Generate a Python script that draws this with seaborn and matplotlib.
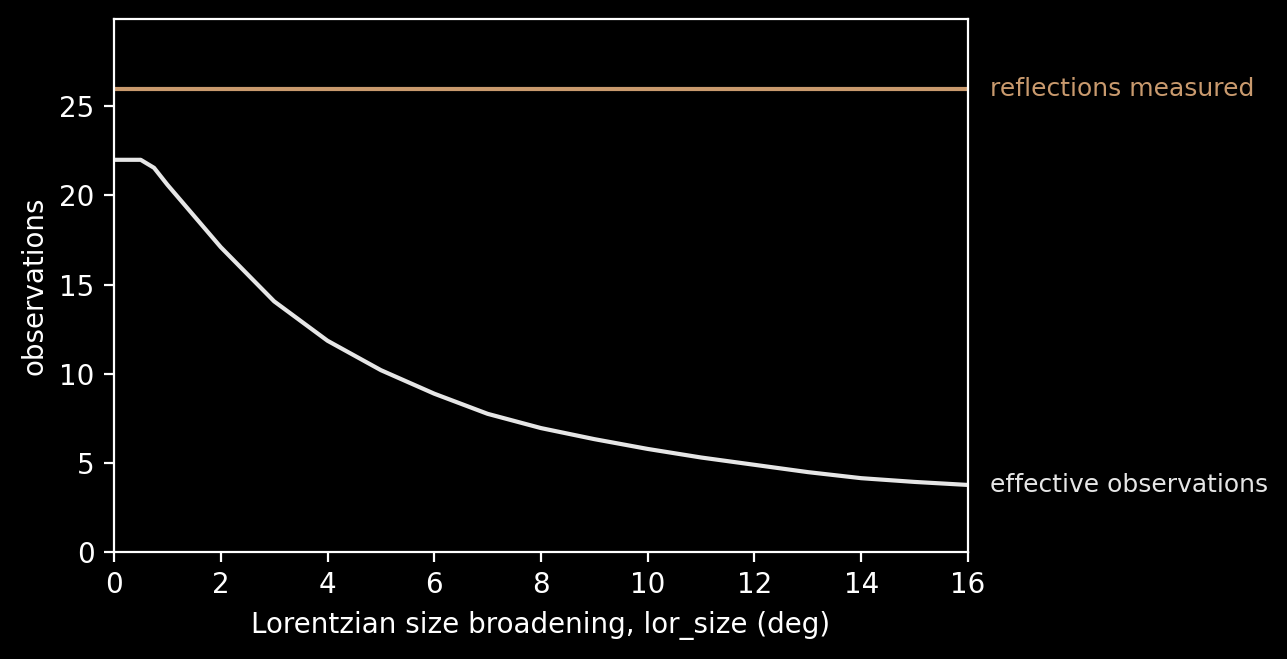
import numpy as np
import pandas as pd
import matplotlib
matplotlib.use("Agg")
import matplotlib.pyplot as plt
import seaborn as sns

# valores
lor_size = [0, 0.25, 0.5, 0.75, 1, 1.5, 2, 3, 4, 5, 6, 7, 8, 9, 10, 11, 12, 13, 14, 15, 16]
eff_obs = [22.0, 22.0, 22.0, 21.55, 20.6, 18.85, 17.1, 14.06, 11.85, 10.2, 8.88,
           7.75, 6.95, 6.33, 5.78, 5.3, 4.89, 4.48, 4.14, 3.93, 3.76]
n_measured = 26

tan = "#c99a6e"
grey = "#e6e6e6"

sns.set_theme(style="ticks", rc={
    "figure.facecolor": "black", "axes.facecolor": "black",
    "axes.edgecolor": "white", "axes.labelcolor": "white",
    "xtick.color": "white", "ytick.color": "white", "text.color": "white",
    "axes.linewidth": 0.8, "xtick.major.width": 0.8, "ytick.major.width": 0.8,
    "xtick.major.size": 3.5, "ytick.major.size": 3.5,
    "font.size": 10, "axes.labelsize": 10, "xtick.labelsize": 10, "ytick.labelsize": 10,
})
plt.rcParams["font.family"] = ["DejaVu Sans"]

df = pd.DataFrame({"lor_size": lor_size, "eff_obs": eff_obs})

fig, ax = plt.subplots(figsize=(6.435, 3.295), dpi=200)
fig.subplots_adjust(left=0.0886, right=0.7521, top=0.9712, bottom=0.1624)

sns.lineplot(data=df, x="lor_size", y="eff_obs", color=grey, linewidth=1.5, ax=ax)
ax.axhline(n_measured, color=tan, linewidth=1.5)

ax.set_xlim(0, 16)
ax.set_ylim(0, n_measured * 1.15)
ax.set_xticks(range(0, 17, 2))
ax.set_yticks(range(0, 26, 5))
ax.set_xlabel("Lorentzian size broadening, lor_size (deg)")
ax.set_ylabel("observations")

ax.annotate("reflections measured", xy=(16, n_measured), xytext=(8, 0),
            textcoords="offset points", va="center", ha="left",
            color=tan, fontsize=9, annotation_clip=False)
ax.annotate("effective observations", xy=(16, eff_obs[-1]), xytext=(8, 0),
            textcoords="offset points", va="center", ha="left",
            color=grey, fontsize=9, annotation_clip=False)

fig.savefig("out.png", dpi=200, facecolor="black")
